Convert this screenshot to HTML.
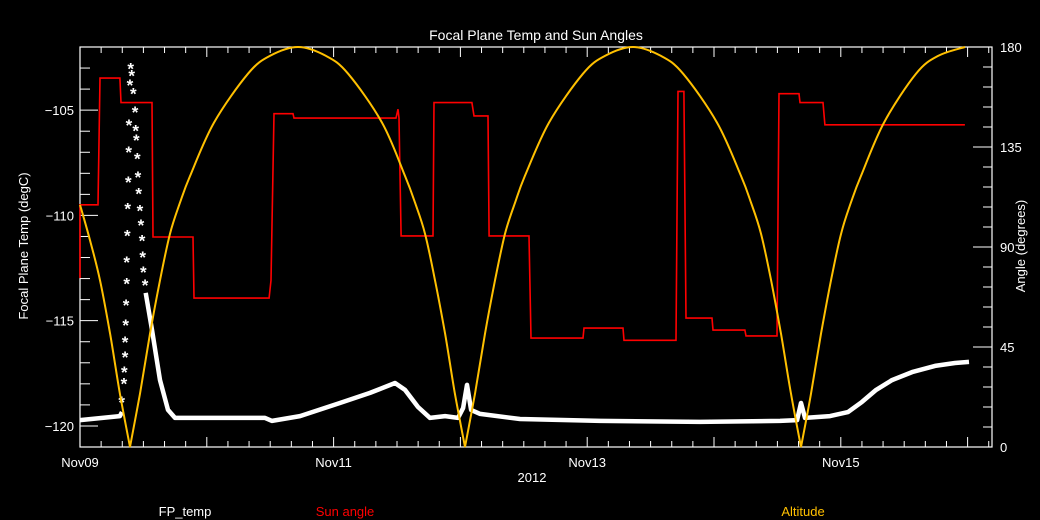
<!DOCTYPE html>
<html><head><meta charset="utf-8"><style>
html,body{margin:0;padding:0;background:#000;}
svg{display:block;font-family:"Liberation Sans",sans-serif;}
</style></head><body>
<svg id="chart" width="1040" height="520" viewBox="0 0 1040 520">
<rect width="1040" height="520" fill="#000"/>
<text x="536" y="40" fill="#fff" font-size="14" text-anchor="middle">Focal Plane Temp and Sun Angles</text>
<g id="axes"></g>
<g id="marks"></g>
<text x="185" y="516" fill="#fff" font-size="13" text-anchor="middle">FP_temp</text>
<text x="345" y="516" fill="#ff0000" font-size="13" text-anchor="middle">Sun angle</text>
<text x="803" y="516" fill="#ffc000" font-size="13" text-anchor="middle">Altitude</text>
<text x="532" y="482" fill="#fff" font-size="13" text-anchor="middle">2012</text>
<text transform="translate(28,246) rotate(-90)" fill="#fff" font-size="13" text-anchor="middle">Focal Plane Temp (degC)</text>
<text transform="translate(1025,246) rotate(-90)" fill="#fff" font-size="13" text-anchor="middle">Angle (degrees)</text>
</svg>
<script>
const xTickLabels = ["Nov09","Nov11","Nov13","Nov15"];
const xTickDays = [0,2,4,6];
const leftTicks = [-105,-110,-115,-120];
const rightTicks = [0,45,90,135,180];

const altT = [0,.079,.158,.237,.315,.394,.473,.552,.631,.710,.789,.868,1.057,1.325,1.498,1.719,1.940,2.114,2.382,2.563,2.642,2.721,2.800,2.879,2.957,3.036,3.115,3.194,3.273,3.352,3.431,3.509,3.699,3.967,4.140,4.361,4.582,4.756,5.024,5.213,5.292,5.371,5.450,5.528,5.607,5.686,5.765,5.844,5.923,6.002,6.080,6.159,6.341,6.593,6.767,6.979];
const altV = [109,93,75,51,24,0,24,51,75,96,110,122,146,168,176,180,176,168,146,122,110,96,75,51,24,0,24,51,75,96,110,122,146,168,176,180,176,168,146,122,110,96,75,51,24,0,24,51,75,96,110,122,146,168,176,180];

const sunT = [0,0,.142,.158,.315,.323,.568,.576,.891,.899,1.491,1.506,1.530,1.680,1.688,2.492,2.508,2.516,2.532,2.784,2.792,3.091,3.107,3.218,3.226,3.541,3.557,3.967,3.975,4.282,4.290,4.700,4.716,4.763,4.779,4.984,4.992,5.244,5.252,5.497,5.513,5.670,5.678,5.860,5.875,6.979];
const sunV = [76,109,109,166,166,155,155,94.5,94.5,67,67,75,150,150,148,148,152,148,95,95,155,155,149,149,95,95,49,49,53.5,53.5,48,48,160,160,58,58,52.6,52.6,50,50,159,159,155,155,145,145];

const fpT1 = [0,.315,.331];
const fpV1 = [-119.72,-119.53,-119.34];
const fpT2 = [.518,.568,.631,.694,.749,1.459,1.514,1.735,2.050,2.287,2.484,2.563,2.666,2.760,2.879,2.981,3.021,3.052,3.084,3.155,3.470,4.101,4.890,5.521,5.655,5.686,5.718,5.915,6.057,6.167,6.278,6.404,6.562,6.743,6.901,7.011];
const fpV2 = [-113.68,-115.44,-117.82,-119.24,-119.62,-119.62,-119.76,-119.53,-118.91,-118.43,-117.96,-118.29,-119.10,-119.62,-119.53,-119.62,-119.15,-118.05,-119.24,-119.43,-119.67,-119.76,-119.81,-119.76,-119.72,-118.91,-119.62,-119.53,-119.34,-118.86,-118.29,-117.82,-117.44,-117.15,-117.01,-116.96];
const starT = [.329,.347,.349,.355,.355,.360,.363,.368,.368,.373,.376,.381,.384,.386,.394,.400,.408,.420,.434,.439,.444,.452,.457,.463,.473,.481,.489,.494,.499,.513];
const starV = [-118.77,-117.90,-117.34,-116.63,-115.92,-115.12,-114.17,-113.15,-112.12,-110.85,-109.58,-108.32,-106.89,-105.62,-103.72,-102.93,-103.25,-104.12,-104.99,-105.86,-106.33,-107.21,-108.08,-108.87,-109.66,-110.37,-111.09,-111.88,-112.59,-113.22];

const L=80,R=992,T=47,B=447;
const xS = d => L + d*126.8;
const yL = v => B - (v + 121) * (B-T)/19;
const yR = a => B - a * (B-T)/180;
const NS='http://www.w3.org/2000/svg';
const axes=document.getElementById('axes'), marks=document.getElementById('marks');
function mk(tag, attrs, parent){const e=document.createElementNS(NS,tag);for(const k in attrs)e.setAttribute(k,attrs[k]);parent.appendChild(e);return e;}

const frame = mk('rect',{x:L,y:T,width:R-L,height:B-T,fill:'none',stroke:'#fff','stroke-width':1.2},axes);



for(let i=0;;i++){const d=i/6;const x=xS(d);if(x>R)break;const len=(i%6===0)?10:6;
 const t1=mk('line',{x1:x,x2:x,y1:B,y2:B-len,stroke:'#fff'},axes);
 
 
 const t2=mk('line',{x1:x,x2:x,y1:T,y2:T+len,stroke:'#fff'},axes);
 
 }
xTickLabels.forEach((lab,i)=>{const t=mk('text',{x:xS(xTickDays[i]),y:467,fill:'#fff','font-size':13,'text-anchor':'middle'},axes);t.textContent=lab;
 
 });
for(let v=-121;v<=-102;v++){const y=yL(v);const major=(v%5===0);
 const t=mk('line',{x1:L,x2:L+(major?18:10),y1:y,y2:y,stroke:'#fff'},axes);
 
 }
leftTicks.forEach(v=>{const t=mk('text',{x:74,y:yL(v)+5,fill:'#fff','font-size':13,'text-anchor':'end'},axes);t.textContent='\u2212'+Math.abs(v);
 
 });
for(let a=0;a<=180;a+=9){const y=yR(a);const major=(a%45===0);
 const t=mk('line',{x1:R,x2:R-(major?19:9),y1:y,y2:y,stroke:'#fff'},axes);
 
 }
rightTicks.forEach(a=>{const t=mk('text',{x:1000,y:yR(a)+5,fill:'#fff','font-size':13},axes);t.textContent=a;
 
 });

function pts(ts,vs,fy){return ts.map((t,i)=>xS(t).toFixed(1)+','+fy(vs[i]).toFixed(1)).join(' ');}
function smoothPath(ts,vs,fy){
 const P=ts.map((t,i)=>[xS(t),fy(vs[i])]);
 let segs=[],cur=[0];
 for(let i=1;i<P.length;i++){cur.push(i);if(vs[i]===0&&i<P.length-1){segs.push(cur);cur=[i];}}
 segs.push(cur);
 let d='M'+P[0][0].toFixed(1)+','+P[0][1].toFixed(1);
 segs.forEach(s=>{for(let k=0;k<s.length-1;k++){
  const p0=P[s[Math.max(k-1,0)]],p1=P[s[k]],p2=P[s[k+1]],p3=P[s[Math.min(k+2,s.length-1)]];
  const c1=[p1[0]+(p2[0]-p0[0])/6,p1[1]+(p2[1]-p0[1])/6],c2=[p2[0]-(p3[0]-p1[0])/6,p2[1]-(p3[1]-p1[1])/6];
  d+=' C'+c1[0].toFixed(1)+','+c1[1].toFixed(1)+' '+c2[0].toFixed(1)+','+c2[1].toFixed(1)+' '+p2[0].toFixed(1)+','+p2[1].toFixed(1);}});
 return d;}
const fp1=mk('polyline',{points:pts(fpT1,fpV1,yL),fill:'none',stroke:'#fff','stroke-width':4.5,'stroke-linejoin':'round'},marks);


const fp2=mk('polyline',{points:pts(fpT2,fpV2,yL),fill:'none',stroke:'#fff','stroke-width':4.5,'stroke-linejoin':'round'},marks);


starT.forEach((t,i)=>{const s=mk('text',{x:xS(t),y:yL(starV[i])+8,fill:'#fff','font-size':17,'text-anchor':'middle','font-weight':'bold'},marks);s.textContent='*';
 
 });
const sun=mk('polyline',{points:pts(sunT,sunV,yR),fill:'none',stroke:'#ff0000','stroke-width':1.6},marks);


const alt=mk('path',{d:smoothPath(altT,altV,yR),fill:'none',stroke:'#ffc000','stroke-width':2},marks);


</script>
</body></html>
